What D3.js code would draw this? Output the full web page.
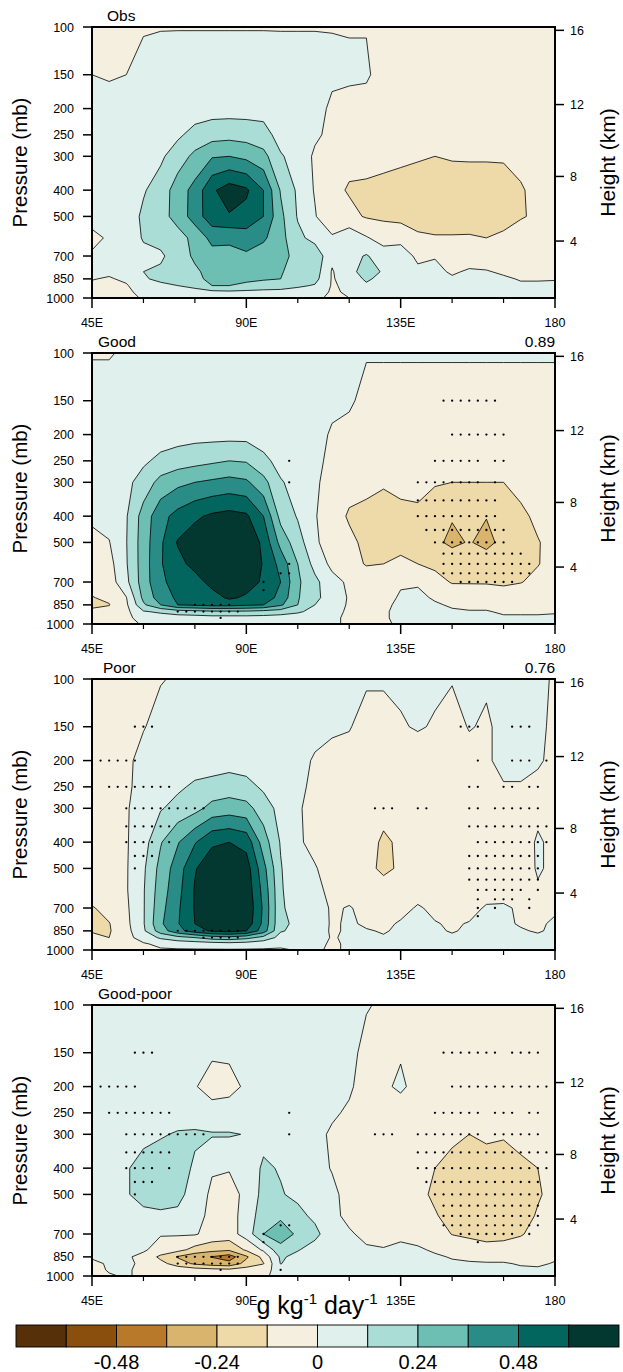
<!DOCTYPE html>
<html><head><meta charset="utf-8">
<script src="https://cdn.jsdelivr.net/npm/d3@7"></script>
<style>
body{margin:0;background:#fff}
svg{display:block}
text{font-family:"Liberation Sans",Arial,Helvetica,sans-serif;fill:#000}
</style></head>
<body><svg id="c" width="623" height="1372"></svg>
<script>
// ---------- grid coordinates ----------
const LON = [45,50,55,60,65,70,75,80,85,90,95,100,105,110,115,120,125,130,135,140,145,150,155,160,165,170,175,180];
const LEV = [100,150,200,250,300,400,500,600,700,800,850,900,950,1000];
// ---------- fields: one row per longitude, values 100 -> 1000 hPa, unit 0.01 g kg-1 day-1 ----------
const obsField = [
[-4,0,3,4,4,4,3,-2,1,1,0.5,-2,-3,-3],
[-4,-1,4,5,5,5,4,1,1,2,-1,-3,-3,-3],
[-4,0,3,4,5,6,6,5,5,4,2,-1,-2,-3],
[-1,4,5,6,8,11,14,13,9,12,11,7,3,1],
[-0.5,5,5,7,10,17,20,16,10,14,14,10,5,1],
[-0.5,6,5,10,18,30,28,20,18,16,16,12,6,2],
[-0.5,6,6,16,27,40,42,27,26,22,21,15,8,2],
[-0.5,6,7,19,35,58,55,40,31,28,27,24,9,2],
[-0.5,6,7,20,36,66,59,38,33,30,28,24,10,3],
[-0.5,6,7,19,33,62,56,42,34,28,26,22,9,3],
[-0.5,6,8,16,28,48,48,38,30,26,25,20,8,3],
[-0.5,5,6,8,13,23,27,28,28,25,24,18,8,2],
[-0.5,5,5,6,8,10,11,15,20,19,18,14,7,2],
[-0.5,5,4,2,-2,-1,1,8,20,18,16,11,4,1],
[-0.3,2,-2,-3,-5,-9,-11,2,3,-1,-1,-1,-1,-1],
[-0.3,1,-2,-4,-9,-13,-9,8,8,9,5,2,1,0],
[-0.3,1,-3,-5,-8,-14,-13,1,13,16,14,10,2,1],
[-3,-3,-4,-6,-9,-15,-14,-5,6,11,8,4,2,0],
[-4,-4,-5,-7,-10,-16,-16,-3,5,5,4,3,2,1],
[-4,-4,-5,-8,-11,-17,-17,-10,-2,2,3,2,1,1],
[-4,-4,-5,-8,-12,-18,-18,-11,-0.5,2,2,1,1,1],
[-4,-4,-5,-8,-11,-18,-18,-11,-5,-1,1,1,1,1],
[-4,-4,-5,-8,-11,-17,-17,-11,-4,1,2,2,1,1],
[-4,-4,-5,-8,-11,-17,-17,-12,-4,0.5,2,2,1,1],
[-4,-4,-5,-8,-11,-16,-16,-10,-5,-1,1,1,1,1],
[-4,-4,-5,-7,-9,-13,-13,-6,-4,-1,-0.5,1,1,1],
[-4,-4,-5,-6,-7,-9,-10,-6,-3,-1,-0.5,1,1,1],
[-4,-4,-4,-5,-6,-7,-7,-5,-3,-1,-0.3,1,1,1]
];
const goodField = [
[-0.5,3,4,5,5,2,-3,-5,-8,-12.5,-13,-11,-6,-4],
[-0.5,3,4,5,5,4,-0.5,-4,-6,-10,-12.5,-8,-5,-3],
[1,3,5,7,9,11,11.5,11,9,-0.5,-2,-3,-3,-3],
[1,3,5,10,17,29,30,30,30,27,22,11,5,1],
[1,3,6,15,28,44,46,47,46,42,36,14,6,1],
[1,3,7,18,33,52,61,56,52,50,48,18,6,1],
[1,3,8,20,36,58,66,64,55,52,50,20,6,1],
[1,3,8,22,38,62,70,70,64,55,52,22,7,1],
[1,3,8,24,40,64,72,72,70,62,52,22,7,1],
[1,3,8,23,38,62,70,70,66,58,50,22,7,1],
[1,3,6,15,28,48,57,59,58,55,48,20,7,1],
[1,3,5,8,13,20,32,44,48,44,38,18,6,1],
[1,3,4,6,8,11,17,24,26,25,24,14,5,1],
[1,3,3,3,2,1,3,8,15,15,12,8,3,1],
[1,2,-1,-3,-5,-8,-9,-3,4,6,4,2,1,1],
[1,1,-2,-4,-9,-13,-10,-7,-2,-1,-1,-1,-1,-1],
[0.5,-2,-3,-5,-10,-14,-14,-13,-4,-3,-2,-1,-1,-1],
[0.5,-2,-3,-5,-11,-16,-16,-12,-5,-3,-2,-1,-1,-1],
[0.5,-2,-3,-6,-9,-15,-15,-10,-1,1,2,2,2,1],
[0.5,-2,-4,-6,-9,-14,-16,-12,-1,2,3,2,2,1],
[0.5,-2,-4,-6,-11,-19,-21,-15,-7,-1,1,2,2,1],
[0.5,-2,-4,-7,-12,-23,-27,-15,-13,-3,-1,1,2,1],
[0.5,-2,-4,-7,-12,-21,-23,-17,-13,-4,-2,0.5,2,1],
[0.5,-2,-4,-7,-12,-23.5,-28,-16,-13,-5,-2,0.5,2,1],
[0.5,-2,-4,-7,-12,-17,-20,-17,-14,-6,-2,-1,1,1],
[0.5,-2,-4,-6,-9,-14,-15,-15,-12.5,-5,-2,-1,1,1],
[0.5,-2,-4,-5,-7,-10,-12.5,-12.5,-9,-4,-2,-1,1,1],
[0.5,-2,-3,-4,-6,-8,-9,-8,-6,-3,-2,-0.5,1,1]
];
const poorField = [
[-3,-3,-3,-3,-3,-3,-3,-5,-13,-14,-13,-9,-5,-3],
[-3,-3,-3,-3,-3,-3,-3,-3,-8,-12.5,-13,-12,-6,-3],
[-3,-3,-2,-2,-1,-1,-1,-1,-2,-3,-4,-3,-2,-2],
[-3,-0.5,3,4,5,7,10,11,11,11,10,4,-1,-2],
[-0.5,3,4,6,11,23,28,30,32,34,30,14,2,-1],
[1,3,5,10,16,35,42,44,46,47,44,20,4,-1],
[1,3,6,14,20,47,59,61,61,60,54,24,5,-1],
[1,3,6,16,28,58,68,70,72,70,62,30,6,-1],
[1,3,7,18,30,60,70,72,74,72,64,32,7,-1],
[1,3,6,16,28,56,66,68,70,68,60,28,6,-1],
[1,3,5,10,18,30,40,44,46,45,42,20,4,-1],
[1,3,4,6,8,11,13,14,14,14,13,8,2,-1],
[1,3,3,2,1,1,1,1,6,10,9,5,1,0.5],
[1,3,-1,-2,-3,-2,0.5,2,4,5,4,3,1,0.5],
[1,1,-2,-3,-4,-4,-3,-2,-1,-1,-1,-0.5,-0.5,-0.5],
[1,0.5,-3,-4,-5,-5,-5,-3,0.5,1,1,1,0.5,0.5],
[1,-3,-4,-5,-6,-7,-8,-4,-2,-1,0.5,1,1,0.5],
[1,-3,-5,-6,-8,-14,-15,-6,-4,-2,-0.5,0.5,0.5,0.5],
[1,-0.5,-4,-5,-7,-10,-10,-5,-3,1,1,1,1,0.5],
[1,0.5,-3,-5,-6,-8,-8,-4,1,1,1,1,1,0.5],
[1,-0.5,-3,-5,-6,-8,-8,-5,-2,0.5,1,1,1,0.5],
[0.5,-3,-4,-5,-6,-8,-8,-6,-3,-1,-0.5,1,1,0.5],
[1,0.5,-3,-5,-7,-9,-10,-8,-3,0.5,1,1,1,0.5],
[1,-1,-1,-1,-4,-7,-8,-4,1,1,1,1,1,0.5],
[2,2,2,-0.5,-2,-4,-6,-3,1,1,1,1,1,0.5],
[2,2,2,-0.5,-2,-4,-5,-3,-1,-0.5,0.5,1,1,0.5],
[2,1,0.5,-1,-2,1,1,-1,-2,-1,-0.5,1,1,0.5],
[-1,-1,-1,-2,-2,-2,-2,-2,-1,1,1,1,1,0.5]
];
const diffField = [
[3,3,3,4,4,3,3,3,3,2,0.5,-1,-2,-2],
[3,3,3,4,5,5,5,4,3,2,1,0.5,0.5,-0.5],
[3,3,3,4,7,11,11,8,3,2,1,1,0.5,0.5],
[3,3,3,5,9,16,16,9,4,1,-2,-1,-1,-1],
[3,3,3,6,11,18,17,10,0.5,-3,-15,-8,-2,-1],
[3,3,3,7,13,18,16,9,1,-8,-25,-18,-4,-1],
[3,3,0.5,5,14,10,6,4,1,-16,-32,-26,-6,-1],
[3,1,-3,3,13,1,-2,-3,-4,-20,-36.5,-30,-8,-1],
[3,1,-2,3,13,0.5,-3,-3,-5,-22,-42,-32,-9,-1],
[3,2,1,4,11.5,4,2,3,5,-10,-26,-20,-6,-1],
[3,2,1,4,8,14,16,20,24,2,-8,-12.5,-5,-1],
[3,2,1,4,7,11,13,22,30,20,14,12.5,6,2],
[3,2,1,3,5,7,9,16,22,13,8,5,3,1],
[3,2,1,2,2,3,4,9,16,6,3,2,1,1],
[3,2,2,1,-1,-0.5,2,2,3,3,2,1,1,1],
[3,2,1,-1,-2,-3,-3,-2,1,2,2,1,1,1],
[0.5,-2,-3,-4,-5,-6,-6,-4,-2,1,2,1,1,1],
[-1,-2,-1,-3,-5,-7,-7,-5,-3,0.5,1,1,1,1],
[-2,-0.5,1,-3,-6,-8,-8,-6,-1,1,1,1,1,1],
[-2,-2,-2,-4,-7,-9,-9,-7,-3,1,1,1,1,1],
[-2,-2,-3,-4,-8,-12,-14,-11,-5,-1,1,1,1,1],
[-2,-2,-3,-5,-10,-15,-17,-16,-12.5,-2,-0.5,1,1,1],
[-2,-2,-3,-5,-12,-18,-20,-19,-15,-4,-1,0.5,1,1],
[-2,-2,-3,-5,-10,-17,-19,-19,-16,-8,-2,0.5,1,1],
[-2,-2,-3,-5,-11,-17,-19,-18,-15,-8,-2,0.5,1,1],
[-2,-2,-3,-5,-9,-14,-17,-16,-13,-6,-2,-0.5,1,1],
[-2,-2,-3,-4,-7,-12,-13,-11,-8,-4,-2,-1,1,1],
[-2,-2,-3,-4,-6,-8,-9,-8,-6,-3,-1,0.5,1,1]
];
// ---------- significance stipples: [pressure, lon from, lon to] every 2.5 deg ----------
const goodDots = [[150,147.5,162.5],[200,150,165],[250,102.5,102.5],[250,145,157.5],[250,162.5,165],
[300,102.5,102.5],[300,140,157.5],[300,162.5,162.5],[350,140,162.5],[400,140,162.5],
[450,142.5,165],[500,145,165],[550,147.5,170],[600,102.5,102.5],[600,147.5,172.5],
[650,100,102.5],[650,147.5,172.5],[700,95,95],[700,152.5,167.5],[750,95,95],
[850,75,85],[900,70,87.5],[950,82.5,82.5]];
const poorDots = [[150,57.5,62.5],[150,152.5,157.5],[150,167.5,172.5],
[200,47.5,57.5],[200,157.5,157.5],[200,167.5,172.5],[200,177.5,177.5],
[250,50,67.5],[250,155,157.5],[250,165,167.5],[250,172.5,175],
[300,55,77.5],[300,127.5,132.5],[300,140,142.5],[300,155,157.5],[300,162.5,175],
[350,55,67.5],[350,155,177.5],[400,55,62.5],[400,67.5,67.5],[400,157.5,177.5],
[450,57.5,62.5],[450,155,175],[500,57.5,57.5],[500,155,175],[550,155,175],
[600,157.5,170],[600,175,175],[650,157.5,157.5],[650,162.5,167.5],[650,172.5,172.5],
[700,157.5,157.5],[700,162.5,162.5],[700,172.5,172.5],[750,157.5,157.5],
[850,70,87.5],[900,77.5,87.5]];
const diffDots = [[150,57.5,62.5],[150,147.5,162.5],[150,167.5,175],
[200,47.5,57.5],[200,150,177.5],
[250,50,67.5],[250,102.5,102.5],[250,145,157.5],[250,162.5,167.5],[250,172.5,175],
[300,55,77.5],[300,102.5,102.5],[300,127.5,132.5],[300,140,157.5],[300,162.5,175],
[350,55,67.5],[350,140,177.5],[400,55,62.5],[400,67.5,67.5],[400,140,177.5],
[450,57.5,62.5],[450,142.5,175],[500,57.5,57.5],[500,145,175],[550,147.5,175],
[600,147.5,170],[600,172.5,175],[650,100,102.5],[650,147.5,170],[650,172.5,175],
[700,95,95],[700,152.5,167.5],[700,172.5,172.5],[750,95,95],[750,157.5,157.5],
[850,70,87.5],[900,70,87.5],[950,82.5,82.5],[950,100,100]];
// ---------- levels, colours, ticks ----------
const levels = [-0.6,-0.48,-0.36,-0.24,-0.12,0,0.12,0.24,0.36,0.48,0.6];
const colors = ["#553008","#8a4f0c","#b8792b","#d8b46c","#eedaa9","#f5efe0","#e0f0ec","#a9ddd6","#6dbfb4","#2a8c86","#02655e","#023830"];
const pTicks = [100,150,200,250,300,400,500,700,850,1000];
const hTicks = [4,8,12,16];
const xMajor = [45,90,135,180];
const xMajorLabels = ["45E","90E","135E","180"];
const xMinor = [60,75,105,120,150,165];
const cbTicks = [-0.48,-0.24,0,0.24,0.48];
const titles = ["Obs","Good","Poor","Good-poor"];
const rightTitles = ["","0.89","0.76",""];

const panels = [
 {field:obsField, dots:[], top:27, tx:107},
 {field:goodField, dots:goodDots, top:353, tx:98},
 {field:poorField, dots:poorDots, top:679, tx:103},
 {field:diffField, dots:diffDots, top:1005, tx:98}
];

const svg = d3.select("#c");
const X0 = 92, X1 = 555, PH = 271;
const x = d3.scaleLinear().domain([45,180]).range([X0,X1]);
const thr = levels.map(v => Math.round(v*100));
function hToP(h){ // standard atmosphere, km -> hPa
  if (h <= 11) return 1013.25*Math.pow(1 - 0.0065*h*1000/288.15, 5.25588);
  return 226.32*Math.exp(-(h-11)*1000*9.80665/(287.05*216.65));
}
const nx = LON.length, ny = LEV.length;

panels.forEach((pn, k) => {
  const top = pn.top, bottom = top + PH;
  const y = d3.scaleLog().domain([100,1000]).range([top,bottom]);
  const vals = new Array(nx*ny);
  for (let j=0;j<ny;j++) for (let i=0;i<nx;i++) vals[j*nx+i] = pn.field[i][j];
  const fx = c => { const t=c-0.5; const i0=Math.max(0,Math.min(nx-2,Math.floor(t)));
    return x(LON[i0] + (t-i0)*(LON[i0+1]-LON[i0])); };
  const fy = c => { const t=c-0.5; const j0=Math.max(0,Math.min(ny-2,Math.floor(t)));
    const a=y(LEV[j0]), b=y(LEV[j0+1]); return a+(t-j0)*(b-a); };
  const proj = d3.geoTransform({point(px,py){ this.stream.point(fx(px), fy(py)); }});
  const path = d3.geoPath(proj);
  const conts = d3.contours().size([nx,ny]).thresholds(thr)(vals);

  const cid = "clip"+k;
  svg.append("clipPath").attr("id",cid).append("rect")
    .attr("x",X0).attr("y",top).attr("width",X1-X0).attr("height",PH);
  const g = svg.append("g").attr("clip-path",`url(#${cid})`);
  g.append("rect").attr("x",X0).attr("y",top).attr("width",X1-X0).attr("height",PH).attr("fill",colors[0]);
  g.selectAll("path.f").data(conts).join("path").attr("class","f")
    .attr("d", d => path(d)).attr("fill",(d,i)=>colors[i+1]).attr("fill-rule","evenodd")
    .attr("stroke","#000").attr("stroke-width",0.8).attr("stroke-linejoin","round");
  // stipples
  const pts = [];
  pn.dots.forEach(([p,a,b]) => { for (let l=a; l<=b+1e-6; l+=2.5) pts.push([l,p]); });
  g.selectAll("circle").data(pts).join("circle")
    .attr("cx",d=>x(d[0])).attr("cy",d=>y(d[1])).attr("r",1.15).attr("fill","#000");
  // frame
  svg.append("rect").attr("x",X0).attr("y",top).attr("width",X1-X0).attr("height",PH)
    .attr("fill","none").attr("stroke","#000").attr("stroke-width",2);
  // left axis
  const ax = svg.append("g");
  pTicks.forEach(p => {
    ax.append("line").attr("x1",X0).attr("x2",X0-9).attr("y1",y(p)).attr("y2",y(p)).attr("stroke","#000").attr("stroke-width",1.5);
    ax.append("text").attr("x",74).attr("y",y(p)).attr("dy","0.36em").attr("text-anchor","end")
      .style("font-size","12.5px").text(p);
  });
  // right axis (height)
  hTicks.forEach(h => {
    const yy = y(hToP(h));
    ax.append("line").attr("x1",X1).attr("x2",X1+9).attr("y1",yy).attr("y2",yy).attr("stroke","#000").attr("stroke-width",1.5);
    ax.append("text").attr("x",570).attr("y",yy).attr("dy","0.36em").style("font-size","12.5px").text(h);
  });
  // bottom axis
  xMajor.forEach((l,i) => {
    ax.append("line").attr("x1",x(l)).attr("x2",x(l)).attr("y1",bottom).attr("y2",bottom+10).attr("stroke","#000").attr("stroke-width",1.5);
    ax.append("text").attr("x",x(l)).attr("y",bottom+29).attr("text-anchor","middle").style("font-size","12.5px").text(xMajorLabels[i]);
  });
  xMinor.forEach(l => {
    ax.append("line").attr("x1",x(l)).attr("x2",x(l)).attr("y1",bottom).attr("y2",bottom+5).attr("stroke","#000").attr("stroke-width",1.2);
  });
  // axis titles
  const cy = top + PH/2;
  ax.append("text").attr("transform",`translate(20,${cy}) rotate(-90)`).attr("text-anchor","middle")
    .attr("dy","0.35em").style("font-size","20.5px").text("Pressure (mb)");
  ax.append("text").attr("transform",`translate(608,${cy}) rotate(-90)`).attr("text-anchor","middle")
    .attr("dy","0.35em").style("font-size","21px").text("Height (km)");
  // panel titles
  ax.append("text").attr("x",pn.tx).attr("y",top-6).style("font-size","15.5px").text(titles[k]);
  if (rightTitles[k]) ax.append("text").attr("x",X1).attr("y",top-6).attr("text-anchor","end")
    .style("font-size","15.5px").text(rightTitles[k]);
});

// unit label
const u = svg.append("text").attr("x",317).attr("y",1314).attr("text-anchor","middle").style("font-size","25px");
u.append("tspan").text("g kg");
u.append("tspan").attr("dy",-10).style("font-size","15px").text("-1");
u.append("tspan").attr("dy",10).text(" day");
u.append("tspan").attr("dy",-10).style("font-size","15px").text("-1");

// colour bar
const cbX0 = 16, cbX1 = 619, cbY = 1325, cbH = 22;
const cbW = (cbX1-cbX0)/colors.length;
const cb = svg.append("g");
cb.selectAll("rect").data(colors).join("rect")
  .attr("x",(d,i)=>cbX0+i*cbW).attr("y",cbY).attr("width",cbW).attr("height",cbH)
  .attr("fill",d=>d).attr("stroke","#000").attr("stroke-width",0.9);
cbTicks.forEach(v => {
  const idx = levels.findIndex(l => Math.abs(l-v) < 1e-9);
  cb.append("text").attr("x",cbX0+(idx+1)*cbW).attr("y",1369).attr("text-anchor","middle")
    .style("font-size","20px").text(v===0 ? "0" : v.toFixed(2));
});
</script></body></html>
